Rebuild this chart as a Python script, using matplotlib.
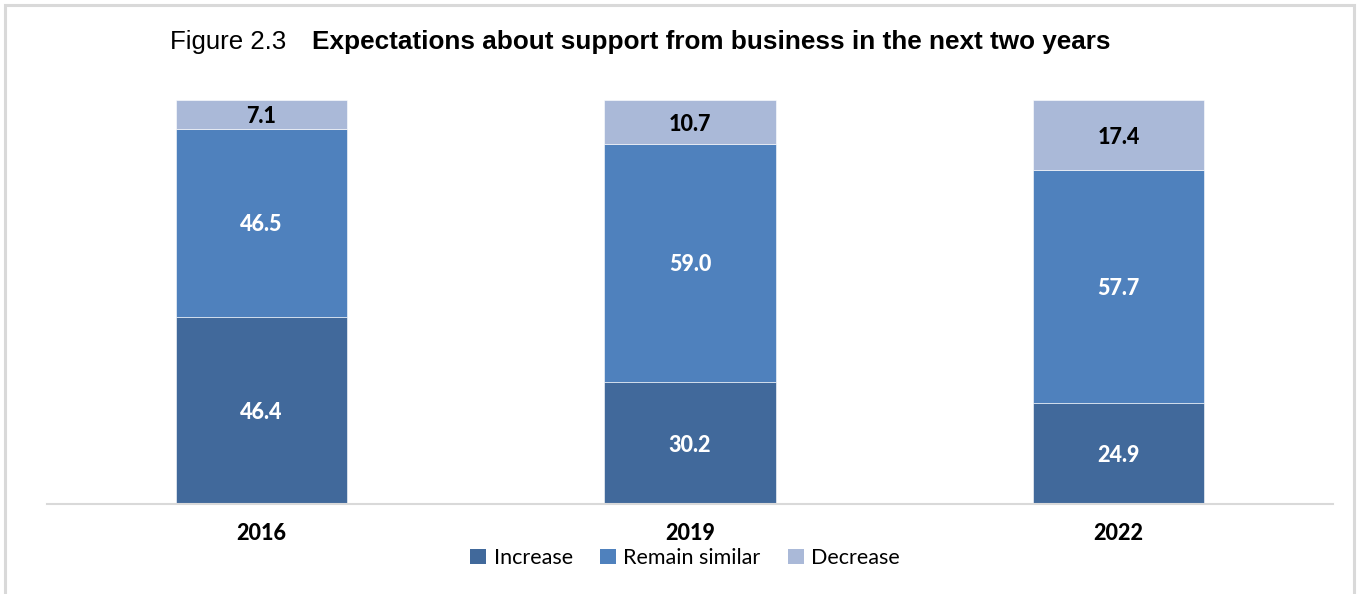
import matplotlib
matplotlib.use("Agg")
import matplotlib.pyplot as plt
from matplotlib.patches import Rectangle, Patch
import numpy as np

years = ["2016", "2019", "2022"]
series_names = ["Increase", "Remain similar", "Decrease"]
increase = [46.4, 30.2, 24.9]
remain_similar = [46.5, 59.0, 57.7]
decrease = [7.1, 10.7, 17.4]

colors = ["#41699B", "#4F81BD", "#AAB9D8"]
label_colors = ["white", "white", "black"]

W, H = 1357, 594
fig = plt.figure(figsize=(W / 100, H / 100), dpi=100)
fig.patch.set_facecolor("white")

# light frame around the whole figure
fig.patches.append(Rectangle((5 / W, -0.01), (1354 - 5) / W, (594 - 5) / H + 0.01,
                             transform=fig.transFigure, fill=False,
                             edgecolor="#D9D9D9", linewidth=2.2))

ax = fig.add_axes([47 / W, (H - 504) / H, (1333 - 47) / W, (504 - 100) / H])
x = np.arange(len(years))
bottom = np.zeros(len(years))
label_font = "Lato"
for vals, name, col, lc in zip([increase, remain_similar, decrease], series_names, colors, label_colors):
    vals = np.array(vals)
    ax.bar(x, vals, width=0.4, bottom=bottom, color=col, label=name,
           edgecolor="white", linewidth=0.4)
    for xi, b, v in zip(x, bottom, vals):
        ax.text(xi, b + v / 2 - 0.5, f"{v:.1f}", ha="center", va="center",
                color=lc, fontsize=15.5, fontweight="black", family=label_font)
    bottom += vals

ax.set_xlim(-0.5, 2.5)
ax.set_ylim(0, 100)
ax.set_yticks([])
for s in ["top", "right", "left"]:
    ax.spines[s].set_visible(False)
ax.spines["bottom"].set_color("#D9D9D9")
ax.spines["bottom"].set_linewidth(1.5)
ax.set_xticks(x)
ax.set_xticklabels(years, fontsize=15.5, fontweight="black", family=label_font)
ax.tick_params(axis="x", length=0, pad=14)

handles = [Patch(facecolor=c, edgecolor="none") for c in colors]
fig.legend(handles, series_names, loc="center", bbox_to_anchor=(685 / W, (H - 558) / H),
           ncol=3, frameon=False, prop={"family": label_font, "size": 15.5},
           handlelength=0.75, handleheight=0.75, handletextpad=0.35, columnspacing=1.25)

fig.text(170 / W, (H - 42) / H, "Figure 2.3", family="Liberation Sans", fontsize=18.6,
         va="center", ha="left")
fig.text(312 / W, (H - 42) / H, "Expectations about support from business in the next two years",
         family="Liberation Sans", fontsize=18.8, fontweight="bold", va="center", ha="left")

fig.savefig("out.png", dpi=100, facecolor="white")
